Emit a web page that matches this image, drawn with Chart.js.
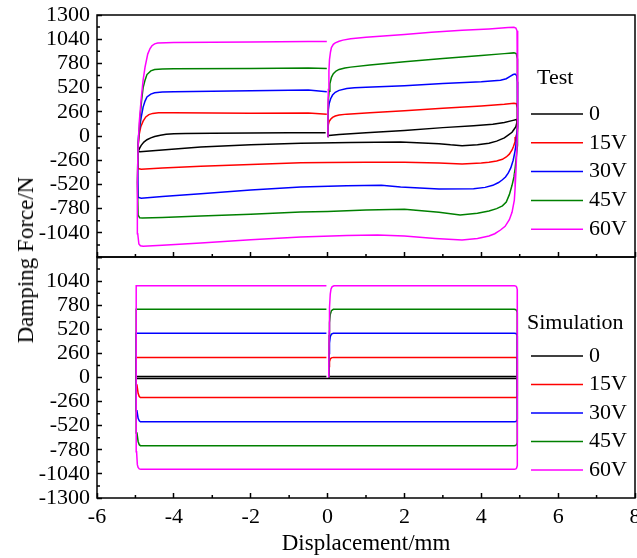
<!DOCTYPE html>
<html>
<head>
<meta charset="utf-8">
<script src="https://cdn.jsdelivr.net/npm/chart.js@4.4.0/dist/chart.umd.min.js"></script>
<style>
    html, body { margin: 0; padding: 0; background: #fff; }
    #page { position: relative; width: 637px; height: 558px; overflow: hidden; }
    .panel { position: absolute; left: 0; width: 637px; }
    #topPanel { top: 0; height: 262px; }
    #bottomPanel { top: 252px; height: 306px; }
    #yTitle {
        position: absolute; left: 26px; top: 260px;
        transform: translate(-50%, -50%) rotate(-90deg);
        white-space: nowrap;
        font: 23px 'Liberation Serif', 'Times New Roman', serif;
        color: #000;
    }
</style>
</head>
<body>
<div id="page">
    <div class="panel" id="topPanel"><canvas id="chartTest"></canvas></div>
    <div class="panel" id="bottomPanel"><canvas id="chartSimulation"></canvas></div>
    <div id="yTitle">Damping Force/N</div>
</div>
<script>
const voltages = ['0', '15V', '30V', '45V', '60V'];
const xTicks = [-6, -4, -2, 0, 2, 4, 6, 8];
const xMinorTicks = [-5, -3, -1, 1, 3, 5, 7];
const yTicks = [-1300, -1040, -780, -520, -260, 0, 260, 520, 780, 1040, 1300];
const yMinorTicks = [-1170, -910, -650, -390, -130, 130, 390, 650, 910, 1170];

// test loops, [displacement, force]
const test0 = [[0, -5], [0.03, 5], [0.3, 15], [1, 35], [2, 60], [3, 90], [3.8, 110], [4.3, 125], [4.6, 145], [4.8, 165], [4.92, 178],
    [4.93, 150], [4.9, 100], [4.85, 70], [4.8, 40], [4.7, 10], [4.6, -20], [4.4, -55], [4.2, -78], [3.9, -95], [3.5, -105], [3.2, -95],
    [2.9, -82], [1.9, -65], [0.6, -70], [-0.7, -78], [-2, -95], [-3.3, -118], [-4.3, -150], [-4.88, -170], [-4.93, -168], [-4.89, -130],
    [-4.85, -100], [-4.78, -65], [-4.7, -40], [-4.6, -20], [-4.5, -5], [-4.35, 8], [-4.2, 18], [-4, 24], [-3.7, 28], [-3, 30], [-2, 32],
    [-1, 34], [-0.05, 35]];
const test15 = [[0, -5], [0.01, 60], [0.02, 120], [0.04, 155], [0.08, 180], [0.13, 200], [0.2, 215], [0.3, 225], [0.5, 235], [0.8, 243],
    [1.1, 250], [2, 272], [3, 298], [4, 322], [4.6, 340], [4.85, 352], [4.91, 348], [4.94, 300], [4.95, 200], [4.94, 100], [4.93, 50],
    [4.9, -10], [4.88, -60], [4.84, -110], [4.8, -150], [4.73, -195], [4.65, -225], [4.55, -250], [4.4, -268], [4.2, -282], [4, -290],
    [3.5, -300], [2.9, -290], [2, -283], [1, -283], [0, -285], [-0.7, -288], [-2, -305], [-3.3, -325], [-4.3, -345], [-4.85, -358],
    [-4.91, -352], [-4.93, -330], [-4.94, -150], [-4.92, -60], [-4.9, 20], [-4.86, 100], [-4.8, 160], [-4.73, 205], [-4.65, 230],
    [-4.55, 243], [-4.4, 250], [-4, 250], [-2, 245], [-0.5, 248], [-0.02, 235]];
const test30 = [[0, -5], [0.01, 150], [0.02, 280], [0.04, 345], [0.08, 400], [0.13, 440], [0.2, 470], [0.3, 490], [0.5, 510], [0.7, 518],
    [1, 525], [2, 540], [3, 563], [4, 582], [4.5, 600], [4.65, 615], [4.75, 640], [4.83, 660], [4.88, 665], [4.92, 650], [4.94, 580],
    [4.95, 400], [4.94, 100], [4.92, 0], [4.9, -100], [4.87, -180], [4.83, -260], [4.77, -340], [4.7, -400], [4.63, -440], [4.55, -470],
    [4.45, -500], [4.3, -530], [4.1, -552], [3.8, -568], [2.9, -570], [1.9, -548], [1.4, -530], [0.5, -535], [-0.7, -548], [-2, -580],
    [-3.3, -620], [-4.3, -650], [-4.85, -668], [-4.91, -660], [-4.93, -630], [-4.94, -300], [-4.92, 0], [-4.88, 120], [-4.85, 200],
    [-4.8, 310], [-4.75, 375], [-4.7, 420], [-4.6, 450], [-4.5, 465], [-4.3, 472], [-4, 475], [-2, 485], [-0.5, 494], [-0.02, 475]];
const test45 = [[0, -5], [0.01, 200], [0.02, 380], [0.04, 480], [0.06, 560], [0.1, 630], [0.15, 670], [0.22, 698], [0.3, 715], [0.45, 730],
    [0.6, 740], [1.1, 762], [2, 798], [3, 833], [4, 865], [4.6, 885], [4.85, 893], [4.91, 885], [4.94, 830], [4.95, 600], [4.95, 200],
    [4.94, 50], [4.93, -100], [4.91, -230], [4.88, -350], [4.85, -440], [4.8, -530], [4.73, -630], [4.65, -710], [4.55, -750], [4.4, -780],
    [4.2, -805], [3.9, -830], [3.45, -850], [2.9, -820], [2, -787], [1, -795], [0, -810], [-0.7, -816], [-2, -840], [-3.3, -860],
    [-4.3, -875], [-4.82, -882], [-4.89, -878], [-4.93, -850], [-4.95, -500], [-4.93, -100], [-4.9, 80], [-4.88, 200], [-4.84, 380],
    [-4.8, 520], [-4.75, 600], [-4.7, 660], [-4.6, 700], [-4.5, 715], [-4.3, 720], [-4, 722], [-2, 726], [-0.5, 730], [-0.02, 725]];
const test60 = [[0, -5], [0.01, 300], [0.02, 500], [0.035, 700], [0.05, 820], [0.075, 900], [0.1, 950], [0.15, 985], [0.2, 1000],
    [0.3, 1018], [0.4, 1030], [0.6, 1045], [1, 1060], [2, 1090], [2.7, 1115], [3.5, 1135], [4.2, 1150], [4.7, 1165], [4.85, 1168],
    [4.9, 1160], [4.93, 1130], [4.95, 1000], [4.95, 400], [4.94, 100], [4.92, -200], [4.9, -400], [4.88, -560], [4.86, -690], [4.8, -820],
    [4.73, -900], [4.62, -970], [4.5, -1010], [4.35, -1050], [4.2, -1075], [3.9, -1100], [3.5, -1117], [2.8, -1100], [2, -1075],
    [1.3, -1063], [0.5, -1070], [-0.7, -1085], [-2, -1115], [-3.3, -1150], [-4.3, -1175], [-4.8, -1185], [-4.87, -1180], [-4.91, -1160],
    [-4.94, -1050], [-4.95, -500], [-4.93, -100], [-4.9, 150], [-4.87, 300], [-4.85, 400], [-4.8, 600], [-4.75, 740], [-4.68, 880],
    [-4.62, 940], [-4.57, 970], [-4.5, 990], [-4.42, 1000], [-4, 1005], [-2, 1010], [-0.5, 1015], [-0.02, 1015]];

// simulation loops
const sim0 = [[0.03, 0], [0.05, 12], [4.93, 12], [4.94, 0], [4.93, -12], [-4.97, -12], [-4.98, 12], [-0.03, 12]];
const sim15 = [[0.03, 0], [0.04, 120], [0.05, 170], [0.07, 200], [0.1, 212], [0.15, 217], [4.86, 217], [4.9, 215], [4.92, 211],
    [4.935, 200], [4.94, 0], [4.935, -200], [4.92, -211], [4.9, -215], [4.86, -217], [-4.87, -217], [-4.9, -205], [-4.93, -170],
    [-4.96, -80], [-4.98, 217], [-0.03, 217]];
const sim30 = [[0.03, 0], [0.04, 260], [0.05, 370], [0.07, 440], [0.1, 468], [0.15, 477], [4.86, 477], [4.9, 474], [4.92, 467],
    [4.935, 450], [4.94, 0], [4.935, -450], [4.92, -467], [4.9, -474], [4.86, -477], [-4.87, -477], [-4.9, -467], [-4.93, -440],
    [-4.96, -360], [-4.98, 477], [-0.03, 477]];
const sim45 = [[0.03, 0], [0.04, 450], [0.05, 590], [0.07, 680], [0.1, 720], [0.15, 735], [4.86, 735], [4.9, 731], [4.92, 722],
    [4.935, 700], [4.94, 0], [4.935, -700], [4.92, -722], [4.9, -731], [4.86, -735], [-4.87, -735], [-4.9, -725], [-4.93, -690],
    [-4.96, -600], [-4.98, 735], [-0.03, 735]];
const sim60 = [[0.03, 0], [0.04, 500], [0.05, 750], [0.07, 900], [0.09, 955], [0.12, 980], [0.17, 990], [4.86, 990], [4.9, 986],
    [4.92, 975], [4.935, 950], [4.94, 0], [4.935, -950], [4.92, -975], [4.9, -986], [4.86, -990], [-4.86, -990], [-4.9, -986],
    [-4.93, -970], [-4.95, -940], [-4.97, -800], [-4.98, 990], [-0.03, 990]];

const testSeries = [test0, test15, test30, test45, test60];
const simSeries = [sim0, sim15, sim30, sim45, sim60];

const lineColors = ['#000000', '#ff0000', '#0000ff', '#008000', '#ff00ff'];
const serif = "'Liberation Serif', 'Times New Roman', serif";

Chart.defaults.font.family = serif;
Chart.defaults.color = '#000';

const frameAndMinorTicks = {
    id: 'frameAndMinorTicks',
    afterDraw(chart) {
        const { ctx, chartArea: a, scales: { x, y } } = chart;
        ctx.save();
        ctx.strokeStyle = '#000';
        ctx.lineWidth = 1.5;
        ctx.beginPath();
        xMinorTicks.forEach(v => {
            const px = x.getPixelForValue(v);
            ctx.moveTo(px, a.bottom);
            ctx.lineTo(px, a.bottom - 3);
        });
        yMinorTicks.forEach(v => {
            const py = y.getPixelForValue(v);
            ctx.moveTo(a.left, py);
            ctx.lineTo(a.left + 3, py);
        });
        ctx.stroke();
        ctx.strokeRect(a.left, a.top, a.right - a.left, a.bottom - a.top);
        ctx.restore();
    }
};

const panelLegend = {
    id: 'panelLegend',
    afterDatasetsDraw(chart, args, opts) {
        const ctx = chart.ctx;
        ctx.save();
        ctx.font = '22px ' + serif;
        ctx.fillStyle = '#000';
        ctx.textBaseline = 'middle';
        ctx.textAlign = 'left';
        ctx.fillText(opts.title, opts.titleX, opts.titleY);
        chart.data.datasets.forEach((ds, i) => {
            const ly = opts.y0 + i * opts.dy;
            ctx.strokeStyle = ds.borderColor;
            ctx.lineWidth = 1.5;
            ctx.beginPath();
            ctx.moveTo(opts.x1, ly);
            ctx.lineTo(opts.x2, ly);
            ctx.stroke();
            ctx.fillText(ds.label, opts.textX, ly);
        });
        ctx.restore();
    }
};

function LoopPanel(canvas, options) {
    new Chart(canvas, {
        type: 'scatter',
        data: {
            datasets: options.series.map((pts, i) => {
                return {
                    label: voltages[i],
                    data: pts.map(p => ({ x: p[0], y: p[1] })),
                    showLine: true,
                    borderColor: lineColors[i],
                    borderWidth: 1.5,
                    pointRadius: 0,
                    pointHoverRadius: 0,
                    tension: 0,
                    order: voltages.length - i
                };
            })
        },
        options: {
            responsive: true,
            maintainAspectRatio: false,
            animation: false,
            events: [],
            layout: {
                padding: { top: options.padTop, right: 2, left: 0, bottom: 0 }
            },
            plugins: {
                legend: { display: false },
                tooltip: { enabled: false },
                panelLegend: options.legend
            },
            scales: {
                x: {
                    type: 'linear',
                    min: -6,
                    max: 8,
                    afterBuildTicks: s => { s.ticks = xTicks.map(v => ({ value: v })); },
                    afterFit: s => {
                        s.height = options.xHeight;
                        s.paddingLeft = 0;
                        s.paddingRight = 0;
                    },
                    grid: {
                        drawOnChartArea: false,
                        tickLength: -5,
                        tickWidth: 1.5,
                        tickColor: '#000'
                    },
                    border: { display: false },
                    ticks: {
                        display: options.showXLabels,
                        autoSkip: false,
                        maxRotation: 0,
                        padding: 11,
                        font: { size: 22 },
                        color: '#000'
                    },
                    title: {
                        display: options.showXLabels,
                        text: 'Displacement/mm',
                        font: { size: 23 },
                        color: '#000',
                        padding: { top: 0, bottom: 0 }
                    }
                },
                y: {
                    type: 'linear',
                    min: -1300,
                    max: 1300,
                    afterBuildTicks: s => { s.ticks = yTicks.map(v => ({ value: v })); },
                    afterFit: s => {
                        s.width = 97;
                        s.paddingTop = 0;
                        s.paddingBottom = 0;
                    },
                    grid: {
                        drawOnChartArea: false,
                        tickLength: -5,
                        tickWidth: 1.5,
                        tickColor: '#000'
                    },
                    border: { display: false },
                    ticks: {
                        autoSkip: false,
                        padding: 12,
                        font: { size: 22 },
                        color: '#000',
                        callback: v => options.hiddenY.includes(v) ? '' : String(v)
                    }
                }
            }
        },
        plugins: [frameAndMinorTicks, panelLegend]
    });
}

LoopPanel(document.getElementById('chartTest'), {
    series: testSeries,
    padTop: 15,
    xHeight: 5,
    showXLabels: false,
    hiddenY: [-1300],
    legend: { title: 'Test', titleX: 537, titleY: 78, x1: 531, x2: 583, textX: 589, y0: 114, dy: 28.8 }
});

LoopPanel(document.getElementById('chartSimulation'), {
    series: simSeries,
    padTop: 5,
    xHeight: 60,
    showXLabels: true,
    hiddenY: [1300],
    legend: { title: 'Simulation', titleX: 527, titleY: 71, x1: 531, x2: 583, textX: 589, y0: 104, dy: 28.5 }
});
</script>
</body>
</html>
